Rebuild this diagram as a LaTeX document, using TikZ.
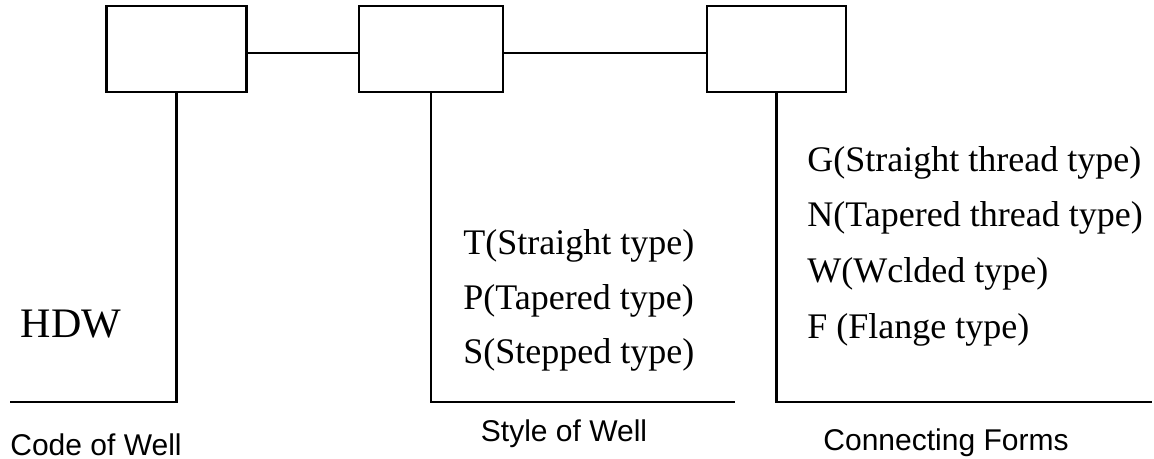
\documentclass[tikz,border=0pt]{standalone}
\usepackage{fontspec}
\setmainfont{Liberation Serif}
\setsansfont{Liberation Sans}
\usetikzlibrary{positioning}
\tikzset{
  wellbox/.style={
    rectangle,
    draw=black,
    line width=1.1pt,
    minimum width=70pt,
    minimum height=43pt
  },
  label/.style={inner sep=0pt, font=\fontsize{15}{18}\sffamily},
  entry/.style={inner sep=0pt, anchor=west, font=\fontsize{18}{22}\selectfont}
}
\tikzstyle{link} = [line width=1.1pt]
\def\code#1{\fontsize{21}{25}\selectfont #1}

\begin{document}
\begin{tikzpicture}[x=0.5pt, y=-0.5pt]
    \useasboundingbox (0,0) rectangle (1154,459);
    \node[wellbox] (b1) at (176.5, 49) {};
    \node[wellbox, minimum width=72pt] (b2) at (431, 49) {};
    \node[wellbox, minimum width=69.5pt] (b3) at (776.5, 49) {};
    \draw[link] ([yshift=-2pt]b1.east) -- ([yshift=-2pt]b2.west);
    \draw[link] ([yshift=-2pt]b2.east) -- ([yshift=-2pt]b3.west);
    \coordinate (e1) at (10, 402);
    \coordinate (e2) at (735, 402);
    \coordinate (e3) at (1152, 402);
    \draw[link] (b1.south) |- (e1);
    \draw[link] (b2.south) |- (e2);
    \draw[link] (b3.south) |- (e3);
    \node[inner sep=0pt] (hdw) at (71, 324) {\code{HDW}};
    \node[entry] (t) at (463, 246) {T(Straight type)};
    \node[entry] (p) at (463, 301) {P(Tapered type)};
    \node[entry] (s) at (463, 355) {S(Stepped type)};
    \node[entry] (g) at (807, 163) {G(Straight thread type)};
    \node[entry] (n) at (807, 218) {N(Tapered thread type)};
    \node[entry] (w) at (807, 274) {W(Wclded type)};
    \node[entry] (f) at (807, 330) {F (Flange type)};
    \node[label] (code) at (96, 445) {Code of Well};
    \node[label] (style) at (564, 434) {Style of Well};
    \node[label] (forms) at (946, 443) {Connecting Forms};
\end{tikzpicture}
\end{document}
